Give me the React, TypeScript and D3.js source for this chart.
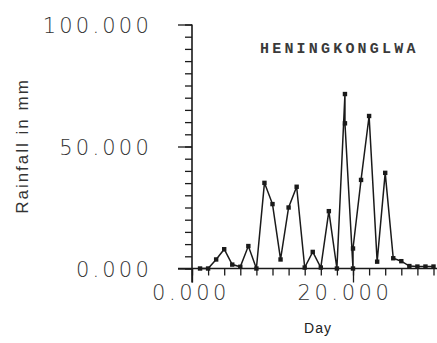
import { useEffect, useRef } from "react";
import * as d3 from "d3";

// readings (day, rainfall mm); days 19 and 20 were plotted twice
const days = [1, 2, 3, 4, 5, 6, 7, 8, 9, 10, 11, 12, 13, 14, 15, 16, 17, 18, 19, 19, 20, 20, 21, 22, 23, 24, 25, 26, 27, 28, 29, 30];
const rainfall = [0, 0, 3.7, 7.9, 1.6, 0.7, 9.2, 0, 35.1, 26.4, 3.7, 25, 33.5, 0.4, 6.8, 0.4, 23.5, 0, 71.5, 59.5, 0, 8.2, 36.3, 62.5, 2.8, 39.2, 4.2, 3, 1, 0.8, 0.8, 0.8];

const yMajorTicks = [0, 50, 100];
const yMinorTicks = d3.range(0, 101, 5);
const xMajorTicks = [0, 20];
const xMinorTicks = d3.range(0, 31, 2);

const stationName = "HENINGKONGLWA";
const xTitle = "Day";
const yTitle = "Rainfall in mm";

export default function App() {
  const ref = useRef<SVGSVGElement>(null);

  useEffect(() => {
    const svg = d3.select(ref.current);
    svg.selectAll("*").remove();

    const x = d3.scaleLinear().domain([0, 20]).range([192, 353]);
    const y = d3.scaleLinear().domain([0, 100]).range([268.5, 24.5]);

    const labelFont = "'DejaVu Sans', sans-serif";
    const ink = "#1a1a1a";

    // y axis: minor + major ticks
    svg.append("g")
      .attr("transform", `translate(${x(0)},0)`)
      .call(d3.axisLeft(y).tickValues(yMinorTicks).tickSize(7).tickFormat(() => ""))
      .call(g => g.select(".domain").remove())
      .selectAll("line").attr("stroke", ink).attr("stroke-width", 1.3);

    svg.append("g")
      .attr("transform", `translate(${x(0)},0)`)
      .call(d3.axisLeft(y).tickValues(yMajorTicks).tickSize(14).tickFormat(() => ""))
      .call(g => g.select(".domain").remove())
      .selectAll("line").attr("stroke", ink).attr("stroke-width", 1.3);

    // x axis: ticks below the line
    svg.append("g")
      .attr("transform", `translate(0,${y(0)})`)
      .call(d3.axisBottom(x).tickValues(xMinorTicks).tickSize(7).tickFormat(() => ""))
      .call(g => g.select(".domain").remove())
      .selectAll("line").attr("stroke", ink).attr("stroke-width", 1.3);

    svg.append("g")
      .attr("transform", `translate(0,${y(0)})`)
      .call(d3.axisBottom(x).tickValues(xMajorTicks).tickSize(14).tickFormat(() => ""))
      .call(g => g.select(".domain").remove())
      .selectAll("line").attr("stroke", ink).attr("stroke-width", 1.3);

    // axis lines
    svg.append("line")
      .attr("x1", x(0)).attr("x2", x(0))
      .attr("y1", y(100)).attr("y2", y(0) + 14)
      .attr("stroke", ink).attr("stroke-width", 1.6);
    svg.append("line")
      .attr("x1", x(0) - 14).attr("x2", 437)
      .attr("y1", y(0)).attr("y2", y(0))
      .attr("stroke", ink).attr("stroke-width", 1.6);

    // tick labels
    svg.selectAll(".ylab")
      .data(yMajorTicks)
      .join("text")
      .attr("class", "ylab")
      .attr("x", 152)
      .attr("y", d => y(d) + 8)
      .attr("text-anchor", "end")
      .attr("font-family", labelFont)
      .attr("font-weight", 200)
      .attr("font-size", 21)
      .attr("letter-spacing", 3.2)
      .attr("fill", "#333")
      .text(d => d3.format(".3f")(d));

    svg.selectAll(".xlab")
      .data(xMajorTicks)
      .join("text")
      .attr("class", "xlab")
      .attr("x", d => x(d) - 1 - d * 0.35)
      .attr("y", 300)
      .attr("text-anchor", "middle")
      .attr("font-family", labelFont)
      .attr("font-weight", 200)
      .attr("font-size", 21)
      .attr("letter-spacing", 3.6)
      .attr("fill", "#333")
      .text(d => d3.format(".3f")(d));

    // axis titles
    svg.append("text")
      .attr("x", 318).attr("y", 333)
      .attr("text-anchor", "middle")
      .attr("font-family", "'Liberation Sans', Arial, sans-serif")
      .attr("font-size", 14)
      .attr("letter-spacing", 1)
      .attr("fill", "#222")
      .text(xTitle);

    svg.append("text")
      .attr("transform", "translate(28,146) rotate(-90)")
      .attr("text-anchor", "middle")
      .attr("font-family", "'Liberation Sans', Arial, sans-serif")
      .attr("font-size", 17)
      .attr("letter-spacing", 2)
      .attr("fill", "#333")
      .text(yTitle);

    // station name
    svg.append("text")
      .attr("x", 260).attr("y", 53)
      .attr("font-family", "'Liberation Mono', 'Courier New', monospace")
      .attr("font-size", 15)
      .attr("font-weight", "bold")
      .attr("letter-spacing", 3.2)
      .attr("fill", "#3a3a3a")
      .text(stationName);

    // series
    const pts = days.map((d, i) => [d, rainfall[i]] as [number, number]);
    const line = d3.line<[number, number]>().x(d => x(d[0])).y(d => y(d[1]));

    svg.append("path")
      .attr("d", line(pts))
      .attr("fill", "none")
      .attr("stroke", ink)
      .attr("stroke-width", 1.5);

    svg.selectAll(".pt")
      .data(pts)
      .join("rect")
      .attr("class", "pt")
      .attr("x", d => x(d[0]) - 2.2)
      .attr("y", d => y(d[1]) - 2.2)
      .attr("width", 4.4)
      .attr("height", 4.4)
      .attr("fill", ink);
  }, []);

  return (
    <svg
      ref={ref}
      width={437}
      height={343}
      style={{ position: "absolute", left: 0, top: 0, background: "#fff" }}
    />
  );
}
